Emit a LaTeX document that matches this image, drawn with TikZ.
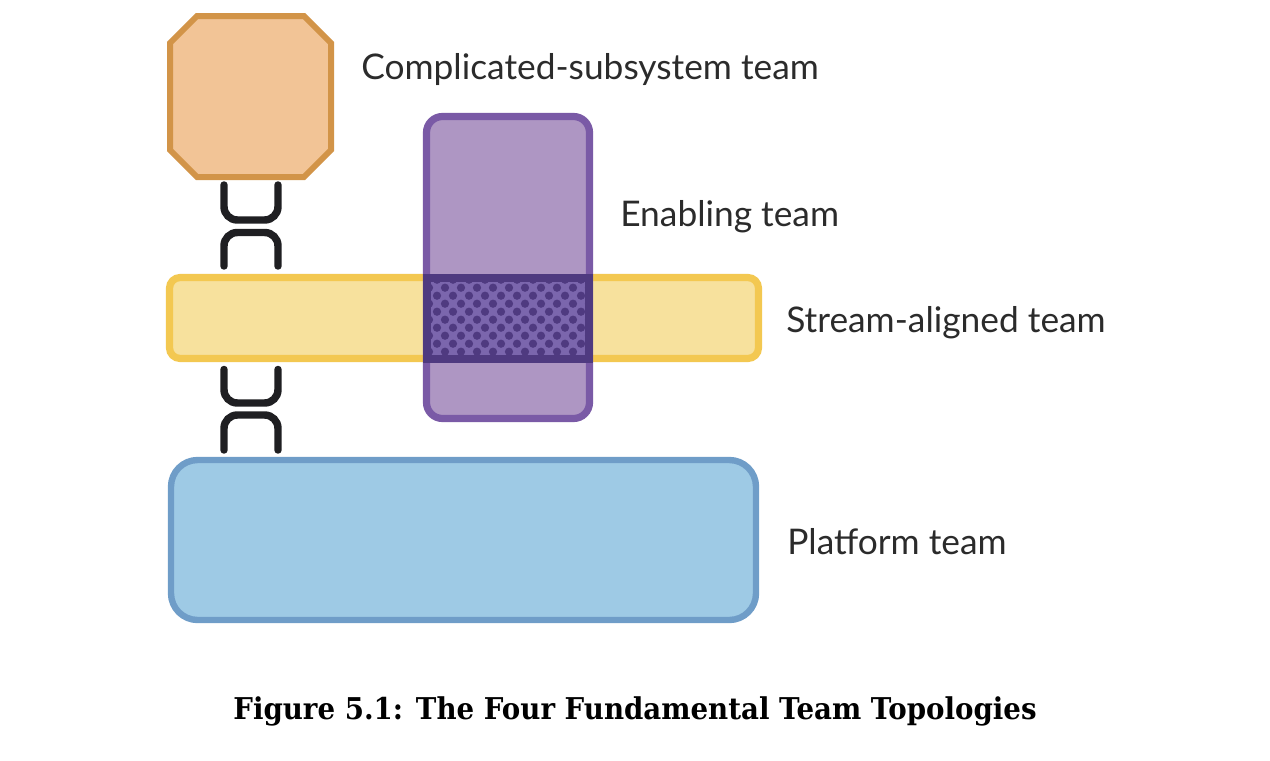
\documentclass[tikz,border=0pt]{standalone}
\usepackage{fontspec}
\setmainfont{Lato}
\newfontfamily\capfont[FakeStretch=0.922]{DejaVu Serif}
\definecolor{orangefill}{HTML}{F2C496}
\definecolor{orangeline}{HTML}{D29448}
\definecolor{purplefill}{HTML}{AE96C3}
\definecolor{purpleline}{HTML}{7A5AA6}
\definecolor{yellowfill}{HTML}{F7E19D}
\definecolor{yellowline}{HTML}{F3C851}
\definecolor{bluefill}{HTML}{9ECAE5}
\definecolor{blueline}{HTML}{6F9DC8}
\definecolor{overlapfill}{HTML}{7B66AD}
\definecolor{overlapdark}{HTML}{4F3A80}
\definecolor{glyph}{HTML}{1F1F22}
\definecolor{labelink}{HTML}{2B2B2B}
\tikzset{
  x=0.75pt,y=-0.75pt,
  teambox/.style n args={2}{draw,inner sep=0pt,outer sep=0pt,minimum width=#1*0.75pt,minimum height=#2*0.75pt},
  labeltext/.style={anchor=base west,inner sep=0pt,text=labelink,font=\fontsize{26.5pt}{30pt}\selectfont},
  interaction/.style={draw=glyph,line width=5.6pt,line cap=round,rounded corners=10pt},
}
\begin{document}
\begin{tikzpicture}
\useasboundingbox (0,0) rectangle (1270,760);
\node[teambox={585}{160},name=platform,fill=bluefill,draw=blueline,line width=4.8pt,rounded corners=20pt] at (463.5,540) {};
\node[teambox={589}{81},name=stream,fill=yellowfill,draw=yellowline,line width=5.4pt,rounded corners=8pt] at (464,318) {};
\node[teambox={163}{302},name=enabling,fill=purplefill,draw=purpleline,line width=5.4pt,rounded corners=12pt] at (508,267.5) {};
\coordinate (complicated) at (250.5,96.5);
\draw[fill=orangefill,draw=orangeline,line width=4.5pt]
  (197,16) -- (304,16) -- (331,43) -- (331,150) -- (304,177) -- (197,177) -- (170,150) -- (170,43) -- cycle;
% overlap band
\node[teambox={162}{81},name=overlap,fill=overlapfill,draw=overlapdark,line width=6pt] at (508,318.5) {};
\begin{scope}
\clip (overlap.south west) rectangle (overlap.north east);
\foreach \r in {0,...,10} { \foreach \c in {0,...,10} {
  \pgfmathsetmacro{\dotx}{429+16*\c+8*mod(\r+1,2)}
  \pgfmathsetmacro{\doty}{279.7+8*\r}
  \fill[overlapdark] (\dotx,\doty) circle[radius=3.1pt];
} }
\end{scope}
\draw[draw=overlapdark,line width=6pt] (overlap.south west) rectangle (overlap.north east);
% interaction glyphs
\coordinate (ua) at (224,185); \coordinate (ub) at (278,185);
\draw[interaction] (ua) -- (224,220) -- (278,220) -- (ub);
\coordinate (na) at (224,266); \coordinate (nb) at (278,266);
\draw[interaction] (na) -- (224,232.5) -- (278,232.5) -- (nb);
\coordinate (uc) at (224,369.5); \coordinate (ud) at (278,369.5);
\draw[interaction] (uc) -- (224,403) -- (278,403) -- (ud);
\coordinate (nc) at (224,450); \coordinate (nd) at (278,450);
\draw[interaction] (nc) -- (224,415) -- (278,415) -- (nd);
% labels
\node[labeltext,name=lcomp] at (361,79) {Complicated-subsystem team};
\node[labeltext,name=lenab] at (620,226) {Enabling team};
\node[labeltext,name=lstream] at (786,332) {Stream-aligned team};
\node[labeltext,name=lplat] at (787,554) {Platform team};
\node[anchor=base,inner sep=0pt,text=black,font=\capfont\bfseries\fontsize{22.5pt}{26pt}\selectfont,name=caption] at (635,719) {Figure 5.1: The Four Fundamental Team Topologies};
\end{tikzpicture}
\end{document}
